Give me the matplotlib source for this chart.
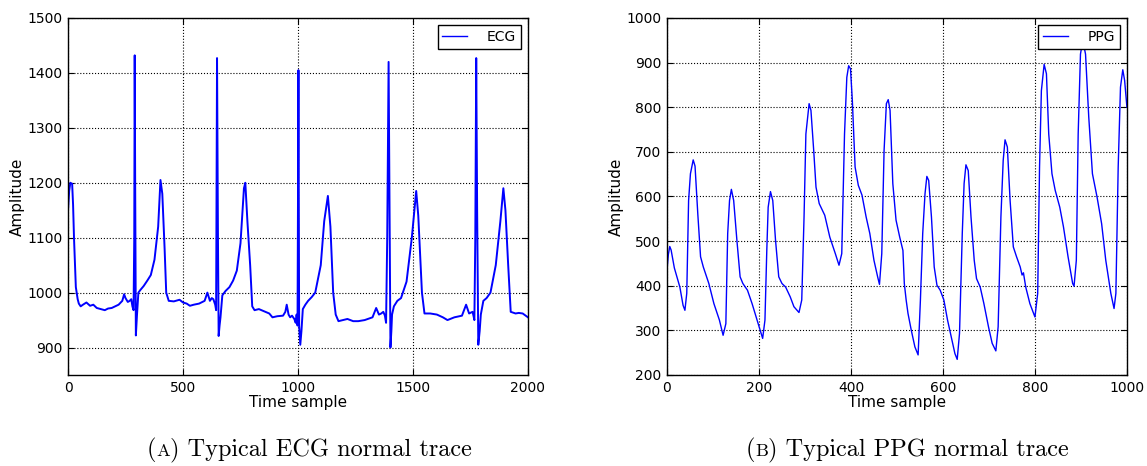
import matplotlib
matplotlib.use("Agg")
import matplotlib.pyplot as plt

# ECG trace, points (sample, amplitude)
ecg_t = [0, 5, 10, 18, 22, 26, 34, 42, 47, 55, 65, 80, 96, 110, 125, 143, 160, 174, 190, 205, 220,
         236, 244, 250, 260, 268, 275, 280, 285, 288, 290, 292, 295, 298, 300, 306, 315, 329, 345,
         360, 376, 392, 402, 410, 420, 427, 438, 460, 485, 500, 516, 530, 547, 570, 594, 606, 617,
         625, 632, 640, 644, 648, 652, 655, 659, 663, 671, 685, 702, 718, 734, 750, 765, 771, 780,
         792, 801, 811, 830, 858, 875, 889, 910, 935, 945, 951, 959, 966, 974, 984, 990, 994,
         998, 1002, 1005, 1010, 1015, 1021, 1032, 1044, 1060, 1075, 1099, 1114, 1130, 1141,
         1153, 1164, 1176, 1195, 1215, 1240, 1262, 1290, 1324, 1340, 1352, 1362, 1371, 1378,
         1383, 1388, 1394, 1398, 1402, 1406, 1409, 1417, 1432, 1448, 1472, 1495, 1514, 1523,
         1539, 1550, 1575, 1604, 1630, 1650, 1680, 1713, 1731, 1744, 1759, 1763, 1767, 1771,
         1775, 1779, 1784, 1790, 1795, 1806, 1820, 1837, 1860, 1880, 1893, 1902, 1914, 1925,
         1946, 1960, 1977, 1990, 2000]
ecg_v = [1150, 1185, 1200, 1198, 1160, 1100, 1010, 988, 980, 975, 978, 982, 976, 978, 972, 970, 968,
         971, 972, 975, 978, 985, 997, 990, 983, 985, 988, 975, 968, 1100, 1432, 1200, 922, 945,
         960, 1000, 1005, 1012, 1022, 1032, 1060, 1120, 1205, 1180, 1080, 1000, 985, 984, 987, 982,
         980, 976, 978, 980, 985, 1000, 985, 990, 988, 978, 968, 1427, 1100, 921, 940, 955, 995,
         1003, 1010, 1022, 1040, 1090, 1190, 1200, 1130, 1050, 975, 968, 970, 965, 962, 955, 957,
         958, 965, 978, 960, 955, 958, 952, 945, 960, 940, 1405, 940, 905, 930, 970, 978, 985, 992,
         1000, 1050, 1130, 1176, 1120, 1000, 960, 948, 950, 952, 948, 948, 950, 955, 972, 960, 962,
         965, 958, 945, 1100, 1420, 1150, 900, 930, 960, 975, 985, 990, 1020, 1100, 1185, 1140,
         1000, 962, 962, 960, 955, 950, 955, 958, 978, 962, 965, 958, 950, 1100, 1427, 1150, 905,
         930, 960, 985, 990, 1000, 1050, 1130, 1190, 1150, 1050, 965, 962, 963, 962, 958, 955]

# PPG trace, points (sample, amplitude)
ppg_t = [0, 3, 6, 9, 16, 28, 35, 39, 43, 47, 51, 57, 61, 67, 73, 79, 91, 102, 114, 122, 128, 132,
         136, 140, 145, 152, 159, 165, 175, 185, 197, 208, 213, 217, 220, 225, 230, 236, 243, 250,
         258, 268, 276, 287, 293, 298, 302, 309, 313, 319, 324, 331, 343, 354, 366, 374, 380, 386,
         391, 395, 399, 403, 409, 416, 424, 433, 441, 450, 458, 462, 467, 472, 477, 481, 485, 491,
         498, 506, 513, 516, 520, 524, 531, 539, 546, 551, 556, 561, 565, 569, 575, 581, 587, 594,
         602, 610, 618, 626, 631, 636, 642, 646, 650, 655, 661, 668, 673, 681, 689, 699, 707, 715,
         720, 726, 731, 735, 740, 746, 753, 760, 768, 772, 775, 780, 789, 800, 806, 810, 814, 820,
         825, 830, 837, 844, 854, 862, 872, 882, 885, 890, 894, 899, 904, 910, 917, 925, 935, 945,
         954, 965, 972, 976, 981, 986, 991, 995, 1000]
ppg_v = [435, 470, 488, 480, 440, 397, 356, 345, 383, 591, 651, 682, 668, 561, 465, 442, 405, 360,
         323, 289, 315, 517, 591, 616, 591, 502, 420, 405, 390, 360, 319, 282, 323, 479, 576, 611,
         591, 502, 420, 405, 397, 375, 353, 340, 368, 554, 740, 808, 793, 703, 621, 584, 558, 509,
         472, 446, 472, 740, 867, 893, 886, 815, 666, 625, 603, 554, 517, 457, 420, 403, 472, 703,
         808, 817, 793, 629, 547, 509, 479, 405, 368, 338, 301, 263, 245, 368, 517, 606, 645, 636,
         554, 442, 401, 390, 368, 323, 286, 248, 235, 293, 517, 629, 671, 658, 554, 457, 416, 397,
         360, 308, 271, 254, 308, 554, 681, 727, 711, 591, 487, 465, 442, 424, 429, 397, 360, 330,
         383, 666, 837, 896, 875, 740, 651, 614, 576, 532, 465, 405, 399, 457, 740, 919, 950, 919,
         778, 651, 599, 539, 457, 383, 349, 383, 666, 845, 884, 860, 800]

ecg_ticks_x = [0, 500, 1000, 1500, 2000]
ecg_ticks_y = [900, 1000, 1100, 1200, 1300, 1400, 1500]
ppg_ticks_x = [0, 200, 400, 600, 800, 1000]
ppg_ticks_y = [200, 300, 400, 500, 600, 700, 800, 900, 1000]

# caption pieces: "(", small-caps letter, rest
cap_letters = ["A", "B"]
cap_rest = [" Typical ECG normal trace", " Typical PPG normal trace"]

plt.rcParams['font.family'] = 'DejaVu Sans'
fig = plt.figure(figsize=(11.47, 4.66), dpi=100)
ax1 = fig.add_axes([0.0593, 0.1953, 0.401, 0.7661])
ax2 = fig.add_axes([0.5815, 0.1953, 0.401, 0.7661])


def style(ax, xt, yt, xlim, ylim):
    ax.set_xlim(*xlim)
    ax.set_ylim(*ylim)
    ax.set_xticks(xt)
    ax.set_yticks(yt)
    ax.grid(True, color='black', linestyle=':', linewidth=0.8)
    ax.tick_params(direction='in', top=True, right=True, length=4, labelsize=10, pad=4)
    for s in ax.spines.values():
        s.set_linewidth(1.0)
    ax.set_xlabel("Time sample", fontsize=11, labelpad=0)
    ax.set_ylabel("Amplitude", fontsize=11, labelpad=2)
    leg = ax.legend(loc='upper right', fontsize=10, fancybox=False, framealpha=1,
                    borderpad=0.35, handlelength=1.8, handletextpad=1.4)
    leg.get_frame().set_edgecolor('black')
    for h in leg.get_lines():
        h.set_linewidth(1.0)


ax1.plot(ecg_t, ecg_v, color='#0000ff', linewidth=1.4, label='ECG')
style(ax1, ecg_ticks_x, ecg_ticks_y, (0, 2000), (850, 1500))

ax2.plot(ppg_t, ppg_v, color='#0000ff', linewidth=1.0, label='PPG')
style(ax2, ppg_ticks_x, ppg_ticks_y, (0, 1000), (200, 1000))

renderer = fig.canvas.get_renderer()


def caption(x, y, letter, rest, size=17.5):
    for txt, fs in [("(", size), (letter, size * 0.75), (")" + rest, size)]:
        t = fig.text(x, y, txt, fontsize=fs, family='cmr10')
        x += t.get_window_extent(renderer).width / fig.bbox.width


caption(147 / 1147, 0.022, cap_letters[0], cap_rest[0])
caption(746 / 1147, 0.022, cap_letters[1], cap_rest[1])

fig.savefig("out.png", dpi=100, facecolor='white')
